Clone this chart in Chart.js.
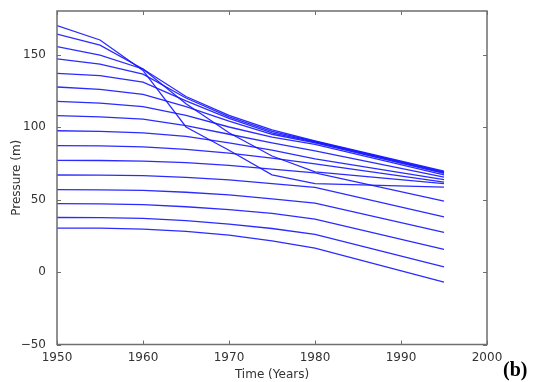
<!DOCTYPE html>
<html>
<head>
<meta charset="utf-8">
<script src="https://cdn.jsdelivr.net/npm/chart.js@4/dist/chart.umd.min.js"></script>
<style>
    body { margin: 0; background: #fff; }
    #wrap { position: relative; width: 533px; height: 382px; }
    #label-b { position: absolute; left: 503px; top: 358px; font: bold 20px "Liberation Serif", serif; color: #000; }
</style>
</head>
<body>
<div id="wrap">
    <canvas id="pressure-chart" width="533" height="382"></canvas>
    <div id="label-b">(b)</div>
</div>
<script>
// years the model was sampled at
const years = [1950, 1955, 1960, 1965, 1970, 1975, 1980, 1995];

// pressure per layer (m)
const layer01 = [170, 160, 139, 100, 84, 67, 61, 58.5];
const layer02 = [164, 156.5, 140, 116, 96, 80, 69, 61];
const layer03 = [155.5, 149.6, 140, 121, 108, 98, 90.5, 69.5];
const layer04 = [147, 143.4, 136.5, 120, 107, 97, 90, 69];
const layer05 = [137, 135.4, 131, 118, 106, 96, 89.5, 68.5];
const layer06 = [127.6, 126, 122.5, 114, 104, 95, 89, 68];
const layer07 = [117.7, 116.5, 114, 108, 100, 93, 88, 67];
const layer08 = [107.8, 107, 105.5, 101, 95, 89, 83.5, 65.5];
const layer09 = [97.4, 97, 96, 93.5, 89, 84, 78, 63.7];
const layer10 = [87.1, 87, 86.3, 84.5, 82, 78.5, 74.5, 62];
const layer11 = [77, 76.9, 76.5, 75.5, 73.5, 71, 68.3, 48.8];
const layer12 = [66.9, 66.8, 66.4, 65.3, 63.5, 61, 58.3, 38];
const layer13 = [56.8, 56.7, 56.3, 55, 53.2, 50.5, 47.5, 27.3];
const layer14 = [47.2, 47, 46.5, 45, 43, 40.5, 36.5, 15.6];
const layer15 = [37.6, 37.5, 37, 35.5, 33, 30, 26, 3.6];
const layer16 = [30.2, 30.2, 29.5, 28, 25.5, 21.5, 16.5, -7];

const layers = [layer01, layer02, layer03, layer04, layer05, layer06, layer07, layer08,
                layer09, layer10, layer11, layer12, layer13, layer14, layer15, layer16];

const xTicks = [1950, 1960, 1970, 1980, 1990, 2000];
const yTicks = [-50, 0, 50, 100, 150];

const frameColor = "#6e6e6e";
const textColor = "#333";

// matplotlib style: box round the axes, tick marks pointing inwards on all sides
const insideTicks = {
    id: "insideTicks",
    afterDatasetsDraw(chart) {
        const ctx = chart.ctx;
        const a = chart.chartArea;
        const x = chart.scales.x;
        const y = chart.scales.y;
        ctx.save();
        ctx.strokeStyle = frameColor;
        ctx.lineWidth = 1.5;
        ctx.strokeRect(a.left, a.top, a.right - a.left, a.bottom - a.top);
        ctx.lineWidth = 1;
        ctx.beginPath();
        xTicks.forEach(v => {
            let px = Math.round(x.getPixelForValue(v)) + 0.5;
            ctx.moveTo(px, a.bottom); ctx.lineTo(px, a.bottom - 4);
            ctx.moveTo(px, a.top); ctx.lineTo(px, a.top + 4);
        });
        yTicks.forEach(v => {
            let py = Math.round(y.getPixelForValue(v)) + 0.5;
            ctx.moveTo(a.left, py); ctx.lineTo(a.left + 4, py);
            ctx.moveTo(a.right, py); ctx.lineTo(a.right - 4, py);
        });
        ctx.stroke();
        ctx.restore();
    }
};

let datasets = layers.map(function (vals, i) {
    return {
        label: "Layer " + (i + 1),
        data: years.map((yr, k) => ({x: yr, y: vals[k]})),
        borderColor: "rgba(20,20,255,0.9)",
        borderWidth: 1.3,
        pointRadius: 0,
        fill: false,
        tension: 0
    };
});

new Chart(document.getElementById("pressure-chart"), {
    type: "line",
    data: { datasets: datasets },
    options: {
        responsive: false,
        animation: false,
        layout: { padding: { top: 11, right: 46, left: 0, bottom: 0 } },
        plugins: {
            legend: { display: false },
            tooltip: { enabled: false }
        },
        scales: {
            x: {
                type: "linear",
                min: 1950,
                max: 2000,
                grid: { display: false },
                border: { display: false },
                ticks: {
                    color: textColor,
                    padding: -2,
                    font: { family: "DejaVu Sans", size: 12 },
                    callback: v => String(v)
                },
                title: {
                    display: true,
                    text: "Time (Years)",
                    color: textColor,
                    padding: { top: 1, bottom: 0 },
                    font: { family: "DejaVu Sans", size: 12 }
                },
                afterBuildTicks: s => { s.ticks = xTicks.map(v => ({value: v})); },
                afterFit: s => { s.height = 37.5; }
            },
            y: {
                min: -50,
                max: 180,
                grid: { display: false },
                border: { display: false },
                ticks: {
                    color: textColor,
                    padding: 3,
                    font: { family: "DejaVu Sans", size: 12 },
                    callback: v => String(v).replace("-", "\u2212")
                },
                title: {
                    display: true,
                    text: "Pressure (m)",
                    color: textColor,
                    padding: { top: 10, bottom: 0 },
                    font: { family: "DejaVu Sans", size: 12 }
                },
                afterBuildTicks: s => { s.ticks = yTicks.map(v => ({value: v})); },
                afterFit: s => { s.width = 57; }
            }
        }
    },
    plugins: [insideTicks]
});
</script>
</body>
</html>
